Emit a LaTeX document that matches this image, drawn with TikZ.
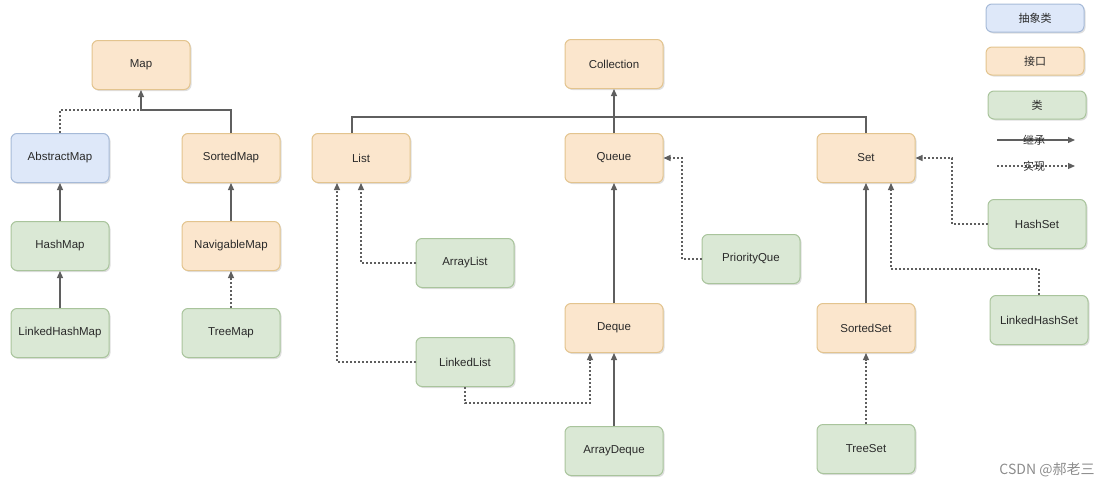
\documentclass[tikz,border=0pt]{standalone}
\usepackage{fontspec}
\setmainfont{Liberation Sans}
\newfontfamily\cjkfont{Noto Sans CJK SC}
\usepackage{xcolor}
\usepackage{tikz}
\usetikzlibrary{arrows.meta,shadows,positioning}

\definecolor{ifacefill}{HTML}{FBE6CD}
\definecolor{ifaceline}{HTML}{E3C48E}
\definecolor{classfill}{HTML}{DAE8D5}
\definecolor{classline}{HTML}{A9C49C}
\definecolor{absfill}{HTML}{DEE8F9}
\definecolor{absline}{HTML}{A6BAD8}
\definecolor{linkgray}{HTML}{5F5F5F}
\definecolor{textgray}{HTML}{2A2A2A}

\tikzset{>={Triangle[length=7pt,width=6pt]}}

\begin{document}
\begin{tikzpicture}[x=1pt,y=-1pt,
                          box/.style={rounded corners=6pt, line width=1pt,
                                      minimum width=98pt, minimum height=49pt,
                                      text=textgray, font=\fontsize{11.5}{13}\selectfont,
                                      drop shadow={shadow xshift=1.5pt, shadow yshift=-1.5pt, opacity=.25}},
                          iface/.style={box, fill=ifacefill, draw=ifaceline},
                          cls/.style={box, fill=classfill, draw=classline},
                          abscls/.style={box, fill=absfill, draw=absline},
                          legendbox/.style={box, minimum height=28pt, font=\cjkfont\fontsize{11}{12}\selectfont},
                          inherit/.style={line width=1.2pt, linkgray, ->},
                          realize/.style={line width=1.2pt, linkgray, dash pattern=on 2pt off 2pt, ->},
                          realizeline/.style={line width=1.2pt, linkgray, dash pattern=on 2pt off 2pt},
                          plainline/.style={line width=1.2pt, linkgray},
                         ]

\useasboundingbox (0,0) rectangle (1112,488);

% Map side
\node[iface]  (map)           at (141,65)  {Map};
\node[abscls] (abstractmap)   at (60,158)  {AbstractMap};
\node[iface]  (sortedmap)     at (231,158) {SortedMap};
\node[cls]    (hashmap)       at (60,246)  {HashMap};
\node[iface]  (navigablemap)  at (231,246) {NavigableMap};
\node[cls]    (linkedhashmap) at (60,333)  {LinkedHashMap};
\node[cls]    (treemap)       at (231,333) {TreeMap};

\coordinate (mapjoin) at (141,110);

\draw[inherit] (sortedmap.north) |- (mapjoin) -- (map.south);
\draw[realizeline] (abstractmap.north) |- (mapjoin);
\draw[inherit] (hashmap.north) -- (abstractmap.south);
\draw[inherit] (linkedhashmap.north) -- (hashmap.south);
\draw[inherit] (navigablemap.north) -- (sortedmap.south);
\draw[realize] (treemap.north) -- (navigablemap.south);

% Collection side
\node[iface] (collection)    at (614,64)  {Collection};
\node[iface] (list)          at (361,158) {List};
\node[iface] (queue)         at (614,158) {Queue};
\node[iface] (set)           at (866,158) {Set};
\node[cls]   (arraylist)     at (465,263) {ArrayList};
\node[cls]   (linkedlist)    at (465,362) {LinkedList};
\node[iface] (deque)         at (614,328) {Deque};
\node[cls]   (arraydeque)    at (614,451) {ArrayDeque};
\node[cls]   (priorityque)   at (751,259) {PriorityQue};
\node[cls]   (hashset)       at (1037,224) {HashSet};
\node[cls]   (linkedhashset) at (1039,320) {LinkedHashSet};
\node[iface] (sortedset)     at (866,328) {SortedSet};
\node[cls]   (treeset)       at (866,449) {TreeSet};

\coordinate (coljoin) at (614,117);

\draw[inherit] (queue.north) -- (collection.south);
\draw[plainline] ([xshift=-9pt]list.north) |- (coljoin);
\draw[plainline] (set.north) |- (coljoin);

\draw[realize] (arraylist.west) -| (list.south);
\draw[realize] (linkedlist.west) -| ([xshift=-24pt]list.south);
\draw[realize] (linkedlist.south) |- (590,403) -- ([xshift=-24pt]deque.south);
\draw[inherit] (arraydeque.north) -- (deque.south);
\draw[inherit] (deque.north) -- (queue.south);
\draw[realize] (priorityque.west) -| (682,158) -- (queue.east);

\draw[realize] (hashset.west) -| (952,158) -- (set.east);
\draw[realize] (linkedhashset.north) |- (891,269) -- ([xshift=25pt]set.south);
\draw[inherit] (sortedset.north) -- (set.south);
\draw[realize] (treeset.north) -- (sortedset.south);

% legend
\node[legendbox, fill=absfill, draw=absline]     (legabs)   at (1035,18)  {抽象类};
\node[legendbox, fill=ifacefill, draw=ifaceline] (legiface) at (1035,61)  {接口};
\node[legendbox, fill=classfill, draw=classline] (legcls)   at (1037,105) {类};

\coordinate (inhstart) at (997,140);
\coordinate (inhend)   at (1075,140);
\coordinate (realstart) at (997,166);
\coordinate (realend)   at (1075,166);
\draw[inherit] (inhstart) -- (inhend);
\draw[realize] (realstart) -- (realend);
\node[text=textgray, font=\cjkfont\fontsize{11}{12}\selectfont] (leginh)  at (1034,140) {继承};
\node[text=textgray, font=\cjkfont\fontsize{11}{12}\selectfont] (legreal) at (1034,166) {实现};

% watermark
\node[text=black!45, font=\cjkfont\fontsize{14}{15}\selectfont] (mark) at (1047,470) {CSDN @郝老三};

\end{tikzpicture}
\end{document}
